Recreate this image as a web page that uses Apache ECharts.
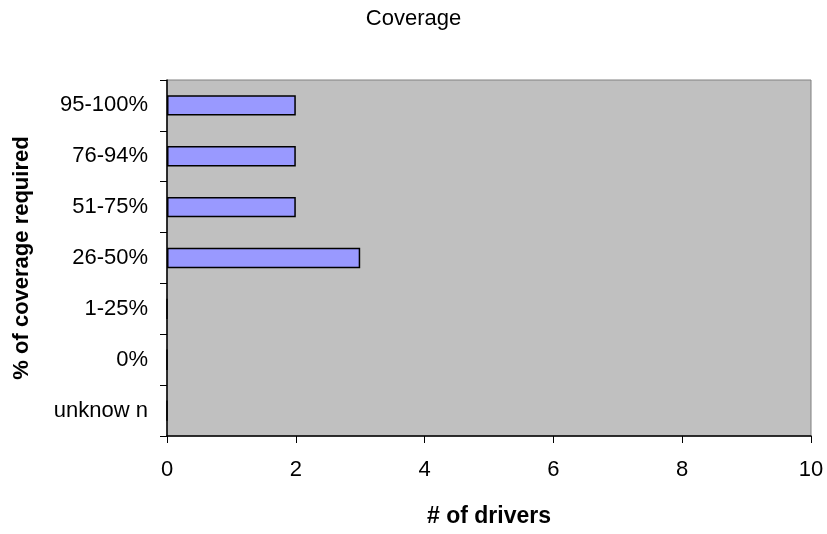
<!DOCTYPE html>
<html>
<head>
<meta charset="utf-8">
<script src="https://cdn.jsdelivr.net/npm/echarts@6/dist/echarts.min.js"></script>
<style>
  html, body { margin: 0; padding: 0; background: #fff; }
  #chart { width: 827px; height: 534px; }
</style>
</head>
<body>
<div id="chart"></div>
<script>
// Coverage categories, listed bottom to top
const categories = ['unknow n', '0%', '1-25%', '26-50%', '51-75%', '76-94%', '95-100%'];
// Number of drivers per coverage band
const drivers = [0, 0, 0, 3, 2, 2, 2];
// Value axis ticks
const xTicks = [0, 2, 4, 6, 8, 10];

const font = '"Liberation Sans", Arial, sans-serif';
const chart = echarts.init(document.getElementById('chart'), null, { renderer: 'canvas' });

chart.setOption({
  animation: false,
  backgroundColor: '#ffffff',
  title: {
    text: 'Coverage',
    left: 'center',
    top: 3,
    textStyle: { fontFamily: font, fontSize: 22, fontWeight: 'normal', color: '#000' }
  },
  grid: {
    left: 167, right: 16, top: 80, bottom: 98,
    show: true,
    backgroundColor: '#C0C0C0',
    borderColor: '#808080',
    borderWidth: 1
  },
  xAxis: {
    type: 'value',
    min: xTicks[0],
    max: xTicks[xTicks.length - 1],
    interval: 2,
    name: '# of drivers',
    nameLocation: 'middle',
    nameGap: 69,
    nameTextStyle: { fontFamily: font, fontSize: 23, fontWeight: 'bold', color: '#000' },
    axisLine: { show: true, lineStyle: { color: '#000', width: 1.5 } },
    axisTick: { show: true, inside: false, length: 7, lineStyle: { color: '#000' } },
    axisLabel: { fontFamily: font, fontSize: 22, color: '#000', margin: 23 },
    splitLine: { show: false }
  },
  yAxis: {
    type: 'category',
    data: categories,
    name: '% of coverage required',
    nameLocation: 'middle',
    nameGap: 134,
    nameTextStyle: { fontFamily: font, fontSize: 22, fontWeight: 'bold', color: '#000' },
    axisLine: { show: true, lineStyle: { color: '#000', width: 1.5 } },
    axisTick: { show: true, inside: false, length: 7, alignWithLabel: false, lineStyle: { color: '#000' } },
    axisLabel: { fontFamily: font, fontSize: 22, color: '#000', margin: 19 },
    splitLine: { show: false }
  },
  series: [{
    type: 'bar',
    data: drivers,
    barWidth: '40%',
    itemStyle: { color: '#9999FF', borderColor: '#000', borderWidth: 1.5 }
  }]
});
</script>
</body>
</html>
